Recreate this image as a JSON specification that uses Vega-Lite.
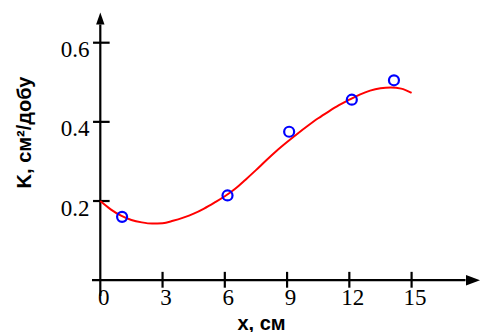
{
  "$schema": "https://vega.github.io/schema/vega-lite/v6.json",
  "autosize": {"type": "none"},
  "width": 386,
  "height": 281,
  "padding": {"left": 92, "top": 15, "right": 3, "bottom": 36},
  "background": "white",
  "config": {"view": {"stroke": null}, "axis": {"labelFont": "Liberation Serif", "labelFontSize": 23, "labelColor": "black"}},
  "datasets": {
    "curve": [
      {"x": 0, "y": 0.2}, {"x": 0.5, "y": 0.179}, {"x": 1, "y": 0.163}, {"x": 1.5, "y": 0.152},
      {"x": 2, "y": 0.146}, {"x": 2.5, "y": 0.143}, {"x": 3, "y": 0.144}, {"x": 3.5, "y": 0.15},
      {"x": 4, "y": 0.158}, {"x": 4.5, "y": 0.168}, {"x": 5, "y": 0.181}, {"x": 5.5, "y": 0.196},
      {"x": 6, "y": 0.212}, {"x": 6.5, "y": 0.231}, {"x": 7, "y": 0.254}, {"x": 7.5, "y": 0.278},
      {"x": 8, "y": 0.303}, {"x": 8.5, "y": 0.327}, {"x": 9, "y": 0.349}, {"x": 9.5, "y": 0.37},
      {"x": 10, "y": 0.39}, {"x": 10.5, "y": 0.409}, {"x": 11, "y": 0.426}, {"x": 11.5, "y": 0.442},
      {"x": 12, "y": 0.456}, {"x": 12.5, "y": 0.469}, {"x": 13, "y": 0.479}, {"x": 13.5, "y": 0.485},
      {"x": 14, "y": 0.487}, {"x": 14.5, "y": 0.484}, {"x": 15, "y": 0.473}
    ],
    "pts": [
      {"x": 1.05, "y": 0.16}, {"x": 6.13, "y": 0.214}, {"x": 9.1, "y": 0.375},
      {"x": 12.12, "y": 0.456}, {"x": 14.15, "y": 0.505}
    ],
    "lines": [
      {"x": -0.4, "y": 0, "x2": 17.6, "y2": 0},
      {"x": 0, "y": -0.04, "x2": 0, "y2": 0.646},
      {"x": 3, "y": -0.019, "x2": 3, "y2": 0.021},
      {"x": 6, "y": -0.019, "x2": 6, "y2": 0.021},
      {"x": 9, "y": -0.019, "x2": 9, "y2": 0.021},
      {"x": 12, "y": -0.019, "x2": 12, "y2": 0.021},
      {"x": 15, "y": -0.019, "x2": 15, "y2": 0.021},
      {"x": -0.35, "y": 0.2, "x2": 0.45, "y2": 0.2},
      {"x": -0.35, "y": 0.4, "x2": 0.45, "y2": 0.4},
      {"x": -0.35, "y": 0.6, "x2": 0.45, "y2": 0.6}
    ],
    "arrowUp": [{"x": 0, "y": 0.661}],
    "arrowRight": [{"x": 17.96, "y": 0}]
  },
  "encoding": {
    "x": {
      "field": "x", "type": "quantitative",
      "scale": {"domain": [-0.4, 18.2], "nice": false, "zero": false},
      "axis": {
        "values": [0, 3, 6, 9, 12, 15], "domain": false, "ticks": false, "grid": false,
        "offset": -10, "labelPadding": 0, "labelBaseline": "top", "labelOffset": 3,
        "labelFont": "Liberation Serif", "labelFontSize": 23, "labelColor": "black",
        "title": "х, см", "titleFont": "Liberation Sans", "titleFontSize": 20, "titleFontWeight": "bold",
        "titleColor": "black", "titleX": 169, "titleY": 43, "titleBaseline": "alphabetic", "titleAnchor": null, "titleAlign": "center"
      }
    },
    "y": {
      "field": "y", "type": "quantitative",
      "scale": {"domain": [-0.04, 0.67], "nice": false, "zero": false},
      "axis": {
        "values": [0.2, 0.4, 0.6], "domain": false, "ticks": false, "grid": false,
        "labelPadding": 3, "labelOffset": 7, "labelBaseline": "middle",
        "labelFont": "Liberation Serif", "labelFontSize": 23, "labelColor": "black",
        "format": ".1f",
        "title": "K, см²/добу", "titleFont": "Liberation Sans", "titleFontSize": 20, "titleFontWeight": "bold",
        "titleColor": "black", "titleAngle": 270, "titleX": -68, "titleY": 117,
        "titleBaseline": "middle", "titleAlign": "center", "titleAnchor": null
      }
    }
  },
  "layer": [
    {
      "data": {"name": "lines"},
      "mark": {"type": "rule", "color": "black", "strokeWidth": 2.2},
      "encoding": {"x2": {"field": "x2"}, "y2": {"field": "y2"}}
    },
    {
      "data": {"name": "arrowUp"},
      "mark": {"type": "point", "shape": "M0,-1L0.7,1L-0.7,1Z", "filled": true, "color": "black", "opacity": 1, "size": 144}
    },
    {
      "data": {"name": "arrowRight"},
      "mark": {"type": "point", "shape": "M1,0L-1,0.75L-1,-0.75Z", "filled": true, "color": "black", "opacity": 1, "size": 196}
    },
    {
      "data": {"name": "curve"},
      "mark": {"type": "line", "color": "#ff0000", "strokeWidth": 2, "interpolate": "monotone"}
    },
    {
      "data": {"name": "pts"},
      "mark": {"type": "point", "shape": "circle", "filled": false, "color": "#0000ff", "strokeWidth": 2.2, "opacity": 1, "size": 100}
    }
  ]
}
